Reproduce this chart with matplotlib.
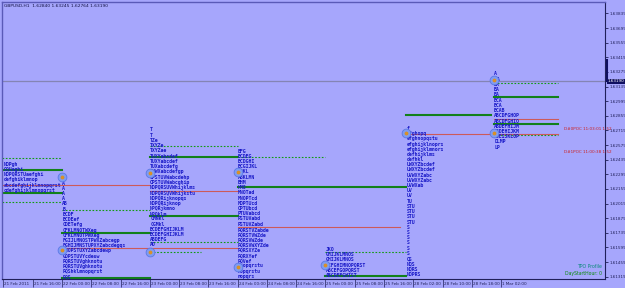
import matplotlib
matplotlib.use("Agg")
import matplotlib.pyplot as plt
import matplotlib.transforms as mtransforms

# ---- data ----
title = "GBPUSD,H1  1.62840 1.63245 1.62764 1.63190"
last_price = 1.63190

time_ticks = list(range(0, 137, 8))
time_labels = ["21 Feb 2011", "21 Feb 16:00", "22 Feb 00:00", "22 Feb 08:00", "22 Feb 16:00",
               "23 Feb 00:00", "23 Feb 08:00", "23 Feb 16:00", "24 Feb 00:00", "24 Feb 08:00",
               "24 Feb 16:00", "25 Feb 00:00", "25 Feb 08:00", "25 Feb 16:00", "28 Feb 02:00",
               "28 Feb 10:00", "28 Feb 18:00", "1 Mar 02:00"]
price_ticks = [1.61319 + 0.0014 * k for k in range(19)]

row_step = 0.0005

# profile start bar, top price, rows (top to bottom)
p1_start, p1_top = 0, 1.62397
p1_rows = ["NOPgh", "OQUaghi", "NOPQRSTUaefghi", "defghiklmnop", "abcdefghijklmnopqrst",
           "cdefghijklmnopqrst"]
p2_start, p2_top = 16, 1.62215
p2_rows = ["A", "A", "A", "A", "AB", "B", "BCDF", "BCDEef", "CDETefg", "CFKLMNOTWXeg",
           "CFKLMNOTPWXeg", "FGIJLMNOSTPWXZabcegp", "FGHIJMNSTUPXYZabcdegqs", "GHOPSTUXYZabcdewp",
           "GOPSTUVYcdeuw", "PQRSTUVghknotu", "PQRSTUVghknotu", "PQShklmnopqrst", "PQS"]
p3_start, p3_top = 40, 1.62723
p3_rows = ["T", "T", "TZe", "TXYZe", "TXYZae", "TUXYabcdef", "TUXYabcdef", "TUXabcdefg",
           "TUWXabcdefgp", "OPSTUVWabcdehp", "OPSTUVWabcghip", "NOPQRSUVWhijklms",
           "NOPQRSUVWhijkstu", "NOPQRijknopqs", "NOPQRijknop", "NPQRjkmno", "NPQklm", "CMNkl",
           "CGMkl", "BCDEFGHIJKLM", "BCDEFGHIJKLM", "ABDEFG", "AD", "A"]
p4_start, p4_top = 64, 1.62522
p4_rows = ["EFG", "BCDEG", "BCDGHI", "BCGIJKL", "ABKL", "ABKLMN", "BHM", "HMO", "MNOTad",
           "MNOPTcd", "MOPTUcd", "OPTUbcd", "PTUVabcd", "PSTUVabd", "PSTUVZabd", "PQRSTVZabde",
           "PQRSTVWZde", "PQRSVWZde", "PQRSVWXYZde", "PQRSXYZe", "PQRXYef", "PQVef",
           "Pnopqrstu", "nopqrstu", "nopqrs"]
p5_start, p5_top = 88, 1.61584
p5_rows = ["JKO", "GHIJKLMNOS", "GHIJKLMNOS", "BCFGHIMNOPQRST", "ABCEFGOPQRST", "ABCDEFGHIST"]
p6_start, p6_top = 110, 1.62742
p6_rows = ["f", "efghopq", "efghnopqstu", "efghijklnoprs", "efghijklmnors", "defhijklms", "defhkl",
           "UWXYZbcdef", "UWXYZbcdef", "UVWXYZabc", "UVWXYZabc", "UVWXab", "UV", "UV", "TU",
           "STU", "STU", "STU", "STU", "S", "S", "S", "S", "S", "S", "QS", "NQS", "NQRS", "NOPRS"]
p7_start, p7_top = 134, 1.63259
p7_rows = ["A", "CA", "BA", "BA", "BA", "BCA", "BCA", "BCAB", "ABCDFGHOP", "ABCDFGHIO",
           "ABDEFHIJM", "ABDEHIJKM", "ABEIJKLOP", "DLMP", "LP"]

# level lines: price, from bar, to bar
green_solid = [(1.62340, -0.4, 16), (1.62120, -0.4, 16), (1.61737, 16, 40), (1.61306, 16, 40),
               (1.62464, 40, 64), (1.61900, 40, 64), (1.62177, 64, 110), (1.61325, 88, 110),
               (1.62866, 110, 133.3), (1.63040, 134, 151.6), (1.62780, 134, 151.6)]
green_dotted = [(1.62455, -0.4, 16), (1.62034, -0.4, 16), (1.61957, 16, 40), (1.62569, 40, 64),
                (1.61651, 40, 64), (1.61555, 40, 54), (1.62464, 64, 88), (1.61555, 88, 110),
                (1.63173, 134, 151.6), (1.62675, 134, 151.6)]
red_lines = [(1.62196, -0.4, 40), (1.61593, 16, 64), (1.62139, 40, 64), (1.61795, 64, 108.5),
             (1.62684, 110, 151.6), (1.62828, 134, 151.6)]

# open / close markers
marker_bars = [16, 16, 40, 40, 64, 64, 88, 110, 134, 134]
marker_prices = [1.62273, 1.61574, 1.62311, 1.61555, 1.62321, 1.61411, 1.61431, 1.62694,
                 1.63201, 1.62694]

poc_labels = [("D#0POC 11:03:01 1:52", 1.62732), ("D#1POC 11:00:38 1:52", 1.62512)]

# ---- drawing ----
bg = "#a6a6fc"
fig = plt.figure(figsize=(6.25, 2.88), dpi=100, facecolor=bg)
ax = fig.add_axes([2 / 625, 9 / 288, 603 / 625, 277 / 288], facecolor=bg)
ax.set_xlim(-0.4, 164.4)
ax.set_ylim(1.61297, 1.63948)

ax.axhline(last_price, color="#8484b4", lw=0.9, zorder=1)

for y, x0, x1 in green_dotted:
    ax.plot([x0, x1], [y, y], color="#139a13", lw=0.8, ls=(0, (1.5, 1.5)), zorder=2)
for y, x0, x1 in red_lines:
    ax.plot([x0, x1], [y, y], color="#cc5a5a", lw=0.8, zorder=2)
for y, x0, x1 in green_solid:
    ax.plot([x0, x1], [y, y], color="#12801a", lw=1.5, zorder=2)

profiles = [(p1_start, p1_top, p1_rows), (p2_start, p2_top, p2_rows), (p3_start, p3_top, p3_rows),
            (p4_start, p4_top, p4_rows), (p5_start, p5_top, p5_rows), (p6_start, p6_top, p6_rows),
            (p7_start, p7_top, p7_rows)]
for start, top, rows in profiles:
    for k, s in enumerate(rows):
        ax.text(start + 0.1, top - k * row_step, s, fontsize=3.5, family="DejaVu Sans Mono",
                fontweight="bold", color="#1a1ac8", ha="left", va="center", zorder=3)

ax.scatter(marker_bars, marker_prices, s=40, facecolor="#7f9cf2", edgecolor="#5a78e6",
           linewidths=0.6, zorder=4)
ax.scatter(marker_bars, marker_prices, s=3, color="#d89028", zorder=5)

for txt, y in poc_labels:
    ax.text(153.2, y, txt, fontsize=3, color="#cc2020", ha="left", va="center", zorder=3)
ax.text(0.995, 0.045, "TPO Profile", transform=ax.transAxes, fontsize=3.3, color="#0a8a7a",
        ha="right", va="center")
ax.text(0.995, 0.02, "DayStartHour: 0", transform=ax.transAxes, fontsize=3.3, color="#0a8a0a",
        ha="right", va="center")

# axes styling
for side in ["left", "top"]:
    ax.spines[side].set_color("#5a5ab8")
    ax.spines[side].set_linewidth(1)
for side in ["right", "bottom"]:
    ax.spines[side].set_color("#20205a")
    ax.spines[side].set_linewidth(0.8)

ax.yaxis.tick_right()
ax.set_yticks(price_ticks)
ax.set_yticklabels([f"{p:.5f}" for p in price_ticks])
ax.tick_params(axis="y", direction="out", length=2, width=0.6, pad=1, labelsize=3,
               colors="#20205a")
ax.set_xticks(time_ticks)
ax.set_xticklabels(time_labels)
ax.tick_params(axis="x", direction="out", length=6, width=0.5, pad=-4, labelsize=3,
               colors="#20205a")
for lab in ax.get_xticklabels():
    lab.set_ha("left")
    lab.set_transform(lab.get_transform() + mtransforms.ScaledTranslation(1 / 100, 0, fig.dpi_scale_trans))

# current price tag on the price scale
trans = mtransforms.blended_transform_factory(ax.transAxes, ax.transData)
ax.plot([1.003, 1.003], [1.63392, last_price], transform=trans, color="#101060", lw=1.5,
        clip_on=False)
ax.text(1.004, last_price, f"{last_price:.5f}", transform=trans, fontsize=3, color="white",
        ha="left", va="center", bbox=dict(boxstyle="square,pad=0.15", fc="#101060", ec="none"))

fig.text(4 / 625, 1 - 6 / 288, title, fontsize=3.2, color="#101040", ha="left", va="center")

fig.savefig("out.png", dpi=100, facecolor=bg)
